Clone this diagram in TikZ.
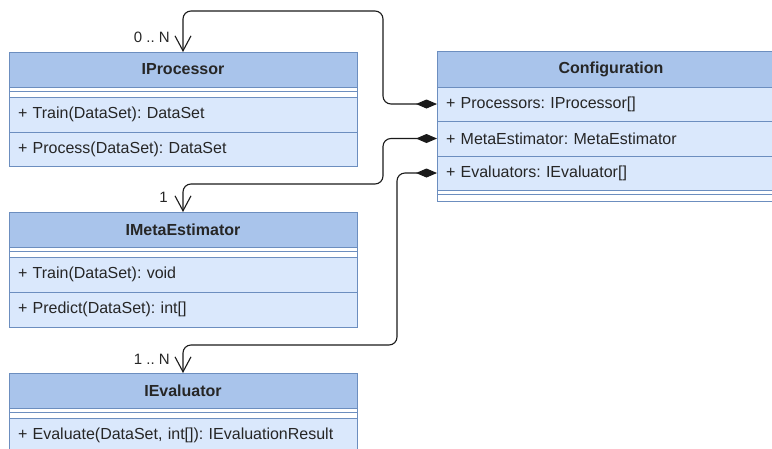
\documentclass[tikz,border=0pt]{standalone}
\usepackage{fontspec}
\setmainfont{Liberation Sans}
\frenchspacing
\usetikzlibrary{arrows.meta}
\definecolor{hdrc}{HTML}{A9C4EB}
\definecolor{rowc}{HTML}{DAE8FC}
\definecolor{bordc}{HTML}{6C8EBF}
\definecolor{txtc}{HTML}{262626}
\definecolor{linec}{HTML}{1A1A1A}
\tikzset{
  hdr/.style={draw=bordc, fill=hdrc, line width=0.9pt, minimum width=348pt, minimum height=35pt,
    anchor=north west, inner sep=0pt, outer sep=0pt, text=txtc,
    font=\fontsize{16pt}{19pt}\selectfont\bfseries},
  rowbox/.style={draw=bordc, fill=rowc, line width=0.9pt, minimum width=348pt, minimum height=35pt,
    anchor=north west, inner xsep=9pt, inner ysep=0pt, outer sep=0pt, text width=330pt, align=left,
    text=txtc, font=\fontsize{16pt}{19pt}\selectfont},
  sepbox/.style={draw=bordc, fill=white, line width=0.9pt, minimum width=348pt, minimum height=10pt,
    anchor=north west, inner sep=0pt, outer sep=0pt},
  comp/.style={draw=linec, line width=1.1pt, rounded corners=8pt,
    {Diamond[length=21pt,width=9pt]}-{Straight Barb[length=15pt,width=16pt,line width=1.1pt]}},
  mult/.style={anchor=east, inner sep=0pt, text=txtc, font=\fontsize{15pt}{18pt}\selectfont},
}
\begin{document}
\begin{tikzpicture}[x=1pt,y=-1pt]
\useasboundingbox (0,0) rectangle (772,448);
\clip (0,0) rectangle (772,448);

% IProcessor
\node[hdr] (proc) at (9,52) {IProcessor};
\node[sepbox] (procsep) at (9,87) {};
\draw[bordc, line width=0.9pt] ([yshift=-4pt]procsep.north west) -- ([yshift=-4pt]procsep.north east);
\node[rowbox] (procA) at (9,97) {+ Train(DataSet): DataSet};
\node[rowbox, minimum height=34pt] (procB) at (9,132) {+ Process(DataSet): DataSet};

% IMetaEstimator
\node[hdr] (meta) at (9,212) {IMetaEstimator};
\node[sepbox] (metasep) at (9,247) {};
\draw[bordc, line width=0.9pt] ([yshift=-4pt]metasep.north west) -- ([yshift=-4pt]metasep.north east);
\node[rowbox] (metaA) at (9,257) {+ Train(DataSet): void};
\node[rowbox] (metaB) at (9,292) {+ Predict(DataSet): int[]};

% IEvaluator
\node[hdr] (eval) at (9,373) {IEvaluator};
\node[sepbox] (evalsep) at (9,408) {};
\draw[bordc, line width=0.9pt] ([yshift=-4pt]evalsep.north west) -- ([yshift=-4pt]evalsep.north east);
\node[rowbox] (evalA) at (9,418) {+ Evaluate(DataSet, int[]): IEvaluationResult};

% Configuration
\node[hdr, minimum height=36pt] (cfg) at (437,51) {Configuration};
\node[rowbox, minimum height=34pt] (cfgP) at (437,87) {+ Processors: IProcessor[]};
\node[rowbox] (cfgM) at (437,121) {+ MetaEstimator: MetaEstimator};
\node[rowbox, minimum height=34pt] (cfgE) at (437,156) {+ Evaluators: IEvaluator[]};
\node[sepbox, minimum height=11pt] (cfgsep) at (437,190) {};
\draw[bordc, line width=0.9pt] ([yshift=-4pt]cfgsep.north west) -- ([yshift=-4pt]cfgsep.north east);

% connectors
\draw[comp] (cfgP.west) -- ++(-54,0) |- ([yshift=41pt]proc.north) -- (proc.north);
\draw[comp] (cfgM.west) -- ++(-54,0) |- ([yshift=28pt]meta.north) -- (meta.north);
\draw[comp] (cfgE.west) -- ++(-40,0) |- ([yshift=28pt]eval.north) -- (eval.north);

% multiplicities
\node[mult] (mP) at ([xshift=-13pt,yshift=15pt]proc.north) {0 .. N};
\node[mult] (mM) at ([xshift=-15pt,yshift=15pt]meta.north) {1};
\node[mult] (mE) at ([xshift=-13pt,yshift=14pt]eval.north) {1 .. N};
\end{tikzpicture}
\end{document}
